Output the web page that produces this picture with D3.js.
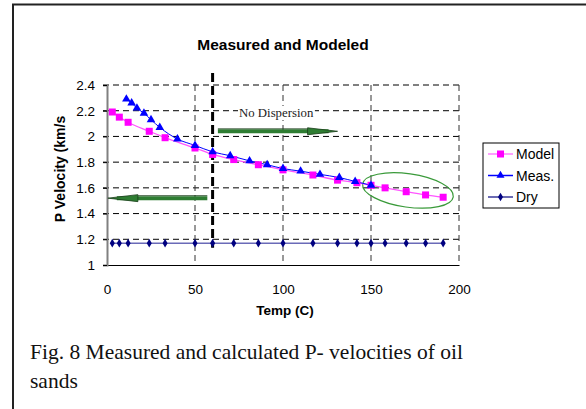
<!DOCTYPE html>
<html>
<head>
<meta charset="utf-8">
<script src="https://cdn.jsdelivr.net/npm/d3@7"></script>
<style>
  body { margin: 0; background: #fff; }
  svg { display: block; }
</style>
</head>
<body>
<svg id="chart"></svg>
<script>
// board size
var svg_w = 586, svg_h = 409;
// plot area
var plot_left = 107, plot_right = 459, plot_top = 85, plot_bottom = 265;

// data
var model_temp = [3, 7, 12, 24, 33, 50, 60, 72, 86, 100, 117, 131, 142, 150, 158, 170, 181, 191];
var model_vel  = [2.19, 2.15, 2.11, 2.04, 1.99, 1.91, 1.86, 1.82, 1.78, 1.74, 1.70, 1.66, 1.64, 1.62, 1.60, 1.57, 1.545, 1.527];
var meas_temp  = [11, 14, 17, 21, 25, 30, 40, 50, 60, 70, 81, 91, 100, 110, 121, 132, 141, 150];
var meas_vel   = [2.29, 2.26, 2.22, 2.18, 2.13, 2.07, 1.98, 1.93, 1.88, 1.85, 1.81, 1.78, 1.75, 1.73, 1.705, 1.68, 1.65, 1.62];
var dry_temp   = [3, 7, 12, 24, 33, 50, 60, 72, 86, 100, 117, 131, 142, 150, 158, 170, 181, 191];
var dry_vel    = [1.17, 1.17, 1.17, 1.17, 1.17, 1.17, 1.17, 1.17, 1.17, 1.17, 1.17, 1.17, 1.17, 1.17, 1.17, 1.17, 1.17, 1.17];

var x_ticks = [0, 50, 100, 150, 200];
var y_ticks = [1, 1.2, 1.4, 1.6, 1.8, 2, 2.2, 2.4];
var series_names = ["Model", "Meas.", "Dry"];

var cutoff_temp = 60; // dispersion boundary
var arrow_right = {t1: 63, t2: 131, v: 2.04};
var arrow_left  = {t1: 57, t2: 0.5, v: 1.52};
var ellipse_pt  = {t: 171, v: 1.58, rt: 26, rv: 0.13};

var sans = "Liberation Sans, Arial, sans-serif";
var serif = "Liberation Serif, Times New Roman, serif";

var svg = d3.select("#chart").attr("width", svg_w).attr("height", svg_h);

var x_scale = d3.scaleLinear().domain([0, 200]).range([plot_left, plot_right]);
var y_scale = d3.scaleLinear().domain([1, 2.4]).range([plot_bottom, plot_top]);

// outer text-box border (top + left)
svg.append("path").attr("d", "M13," + svg_h + "V4.5H" + svg_w)
  .attr("fill", "none").attr("stroke", "#222").attr("stroke-width", 2);

// title
svg.append("text").attr("x", 283).attr("y", 50).attr("text-anchor", "middle")
  .attr("font-family", sans).attr("font-weight", "bold")
  .attr("font-size", 15.5).text("Measured and Modeled");

// grid - horizontal
svg.append("g").selectAll("line").data(y_ticks.slice(1)).enter().append("line")
  .attr("x1", plot_left - 4).attr("x2", plot_right)
  .attr("y1", function(d){ return y_scale(d); }).attr("y2", function(d){ return y_scale(d); })
  .attr("stroke", "#000").attr("stroke-width", 1).attr("stroke-dasharray", "6,4");
// grid - vertical
svg.append("g").selectAll("line").data(x_ticks.slice(1)).enter().append("line")
  .attr("x1", function(d){ return x_scale(d); }).attr("x2", function(d){ return x_scale(d); })
  .attr("y1", plot_top).attr("y2", plot_bottom)
  .attr("stroke", "#333").attr("stroke-width", 1).attr("stroke-dasharray", "6,4");

// axes
var x_axis = d3.axisBottom(x_scale).tickValues(x_ticks).tickSize(0).tickPadding(19).tickFormat(d3.format("d"));
var gx = svg.append("g").attr("transform", "translate(0," + plot_bottom + ")").call(x_axis);
gx.select(".domain").attr("stroke", "#000").attr("stroke-width", 1.2);
var y_axis = d3.axisLeft(y_scale).tickValues(y_ticks).tickSize(4).tickPadding(8)
  .tickFormat(function(d){ return d3.format("")(+d.toFixed(1)); });
var gy = svg.append("g").attr("transform", "translate(" + plot_left + ",0)").call(y_axis);
gy.select(".domain").attr("stroke", "#808080").attr("stroke-width", 2);
gy.selectAll(".tick line").attr("stroke", "#000");
svg.selectAll(".tick text").attr("font-family", sans)
  .attr("font-size", 13.5).attr("fill", "#000");

// axis titles
svg.append("text").attr("x", 285).attr("y", 315).attr("text-anchor", "middle")
  .attr("font-family", sans).attr("font-weight", "bold")
  .attr("font-size", 13.5).text("Temp (C)");
svg.append("text").attr("transform", "translate(65,169) rotate(-90)").attr("text-anchor", "middle")
  .attr("font-family", sans).attr("font-weight", "bold")
  .attr("font-size", 14).text("P Velocity (km/s");

// thick dashed boundary at 60 C
svg.append("line").attr("x1", x_scale(cutoff_temp)).attr("x2", x_scale(cutoff_temp))
  .attr("y1", plot_top - 12).attr("y2", y_scale(1.135))
  .attr("stroke", "#000").attr("stroke-width", 3).attr("stroke-dasharray", "9,4");

// green arrows
function draw_arrow(a){
  var x1 = x_scale(a.t1), x2 = x_scale(a.t2), y = y_scale(a.v);
  var dir = x2 > x1 ? 1 : -1;
  var head = 30 * dir;
  var g = svg.append("g");
  g.append("line").attr("x1", x1).attr("x2", x2 - head * 0.3).attr("y1", y).attr("y2", y)
    .attr("stroke", "#2e7d32").attr("stroke-width", 4);
  g.append("line").attr("x1", x1).attr("x2", x2 - head).attr("y1", y - 2.5).attr("y2", y - 2.5)
    .attr("stroke", "#1a3d1a").attr("stroke-width", 0.8);
  g.append("path")
    .attr("d", "M" + (x2 - head) + "," + (y - 3.5) + "L" + x2 + "," + y + "L" + (x2 - head) + "," + (y + 3.5) + "Z")
    .attr("fill", "#2e7d32").attr("stroke", "#1a3d1a").attr("stroke-width", 0.8);
}
draw_arrow(arrow_right);
draw_arrow(arrow_left);

// label with white background hiding the grid behind it
var nd = svg.append("g");
var nd_bg = nd.append("rect").attr("fill", "#fff");
var nd_text = nd.append("text").attr("x", 239).attr("y", 117)
  .attr("font-family", serif)
  .attr("font-size", 12.8).attr("fill", "#222").text("No Dispersion");
var bb = nd_text.node().getBBox();
nd_bg.attr("x", bb.x - 1).attr("y", bb.y).attr("width", bb.width + 2).attr("height", bb.height);

// green ellipse around the model tail
var ex = x_scale(ellipse_pt.t), ey = y_scale(ellipse_pt.v);
svg.append("ellipse").attr("cx", ex).attr("cy", ey)
  .attr("rx", x_scale(ellipse_pt.rt) - x_scale(0)).attr("ry", y_scale(1) - y_scale(1 + ellipse_pt.rv))
  .attr("transform", "rotate(8," + ex + "," + ey + ")")
  .attr("fill", "none").attr("stroke", "#3a9a3a").attr("stroke-width", 1.2);

// series
var line_gen = d3.line().curve(d3.curveMonotoneX)
  .x(function(d){ return x_scale(d[0]); }).y(function(d){ return y_scale(d[1]); });

var dry = d3.zip(dry_temp, dry_vel);
var model = d3.zip(model_temp, model_vel);
var meas = d3.zip(meas_temp, meas_vel);

svg.append("path").datum(dry).attr("d", line_gen).attr("fill", "none")
  .attr("stroke", "#6a6ab8").attr("stroke-width", 1.5);
svg.append("g").selectAll("path").data(dry).enter().append("path")
  .attr("d", d3.symbol(d3.symbolDiamond, 22))
  .attr("transform", function(d){ return "translate(" + x_scale(d[0]) + "," + y_scale(d[1]) + ")"; })
  .attr("fill", "#000080");

svg.append("path").datum(model).attr("d", line_gen).attr("fill", "none")
  .attr("stroke", "#ff55ff").attr("stroke-width", 1.3);
svg.append("path").datum(meas).attr("d", line_gen).attr("fill", "none")
  .attr("stroke", "#0000ff").attr("stroke-width", 1);

svg.append("g").selectAll("rect").data(model).enter().append("rect")
  .attr("x", function(d){ return x_scale(d[0]) - 3.5; }).attr("y", function(d){ return y_scale(d[1]) - 3.5; })
  .attr("width", 7).attr("height", 7).attr("fill", "#ff00ff");
svg.append("g").selectAll("path").data(meas).enter().append("path")
  .attr("d", d3.symbol(d3.symbolTriangle, 32))
  .attr("transform", function(d){ return "translate(" + x_scale(d[0]) + "," + y_scale(d[1]) + ")"; })
  .attr("fill", "#0000ff");

// legend
var legend = svg.append("g").attr("transform", "translate(483,143)");
legend.append("rect").attr("width", 76).attr("height", 65)
  .attr("fill", "#fff").attr("stroke", "#000").attr("stroke-width", 1);
var leg_y = d3.scalePoint().domain(series_names).range([11, 54]);
var leg_line = {"Model": "#ff80ff", "Meas.": "#0000ff", "Dry": "#3a3a9a"};
series_names.forEach(function(name){
  var y = leg_y(name);
  legend.append("line").attr("x1", 5).attr("x2", 30).attr("y1", y).attr("y2", y)
    .attr("stroke", leg_line[name]).attr("stroke-width", 1.5);
  if(name === "Model"){
    legend.append("rect").attr("x", 14).attr("y", y - 3.5).attr("width", 7).attr("height", 7).attr("fill", "#ff00ff");
  }else if(name === "Meas."){
    legend.append("path").attr("d", d3.symbol(d3.symbolTriangle, 28)).attr("transform", "translate(17.5," + y + ")").attr("fill", "#0000ff");
  }else{
    legend.append("path").attr("d", d3.symbol(d3.symbolDiamond, 22)).attr("transform", "translate(17.5," + y + ")").attr("fill", "#000080");
  }
  legend.append("text").attr("x", 33).attr("y", y + 5)
    .attr("font-family", sans).attr("font-size", 14).text(name);
});

// caption
var caption = ["Fig. 8 Measured and calculated P- velocities of oil", "sands"];
svg.append("g").selectAll("text").data(caption).enter().append("text")
  .attr("x", 30).attr("y", function(d, i){ return 359 + i * 29; })
  .attr("font-family", serif).attr("font-size", 21.5)
  .attr("fill", "#111").text(function(d){ return d; });
</script>
</body>
</html>
